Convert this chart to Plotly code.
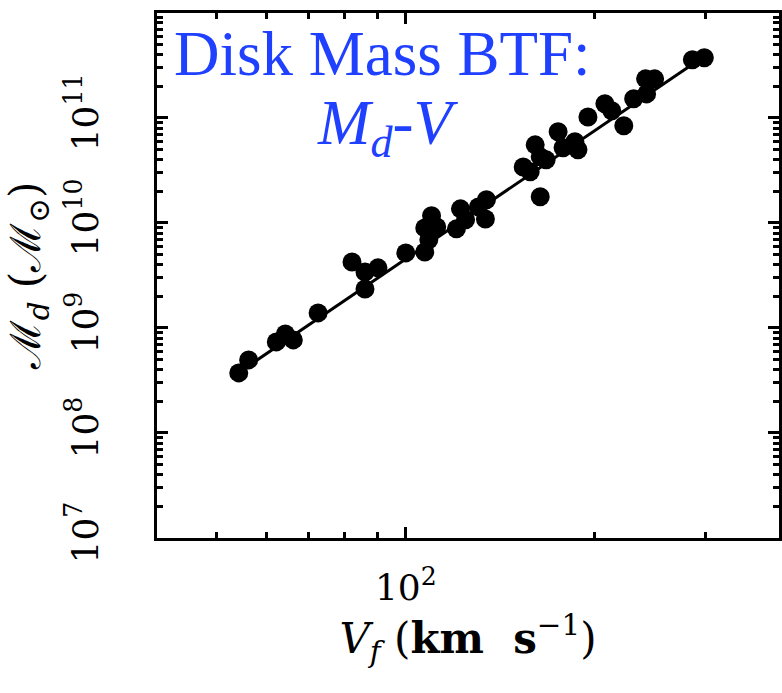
import plotly.graph_objects as go

# Flat rotation velocity (km/s) and disk mass (solar masses)
vf = [54.2, 56.2, 62.2, 64.3, 66.2, 72.5, 82.1, 86.1, 86.1, 90.3,
      100.0, 107.2, 107.2, 109.9, 112.0, 108.8, 120.4, 122.2, 124.5, 130.5,
      134.4, 133.9, 153.8, 157.8, 160.7, 163.7, 167.3, 163.7, 174.8, 178.0,
      185.9, 188.0, 195.0, 207.5, 212.8, 222.4, 230.6, 241.8, 240.9, 249.0,
      286.0, 298.8]
md = [3.73e8, 4.96e8, 7.36e8, 8.77e8, 7.69e8, 1.39e9, 4.25e9, 3.41e9, 2.35e9, 3.73e9,
      5.18e9, 5.29e9, 8.96e9, 1.17e10, 9.16e9, 6.89e9, 8.77e9, 1.36e10, 1.07e10, 1.42e10,
      1.66e10, 1.09e10, 3.41e10, 3.06e10, 5.53e10, 4.25e10, 3.98e10, 1.77e10, 7.36e10, 5.18e10,
      5.91e10, 4.96e10, 1.02e11, 1.36e11, 1.17e11, 8.39e10, 1.52e11, 1.69e11, 2.35e11, 2.35e11,
      3.57e11, 3.73e11]

# Fitted relation endpoints
fit_v = [55.0, 300.0]
fit_m = [4.0e8, 3.93e11]

x_major = [100]
x_major_text = ["10<sup>2</sup>"]
x_minor = [50, 60, 70, 80, 90, 200, 300]
y_major = [1e7, 1e8, 1e9, 1e10, 1e11]
y_major_text = ["10<sup>7</sup>", "10<sup>8</sup>", "10<sup>9</sup>", "10<sup>10</sup>", "10<sup>11</sup>"]
y_minor = [k * 10 ** n for n in range(7, 12) for k in range(2, 10)]

X_RANGE = [1.6038, 2.5943]
Y_RANGE = [7, 11.998]

BLUE = "#1f40ff"
SERIF = "DejaVu Serif"
TIMES = "Liberation Serif"
TICKFONT = dict(family=SERIF, size=36, color="black")

fig = go.Figure()
fig.add_trace(go.Scatter(x=fit_v, y=fit_m, mode="lines",
                         line=dict(color="black", width=3), showlegend=False))
fig.add_trace(go.Scatter(x=vf, y=md, mode="markers",
                         marker=dict(color="black", size=19, line=dict(width=0)),
                         showlegend=False))
# invisible carrier so the overlay axes (long decade ticks) are drawn
fig.add_trace(go.Scatter(x=vf, y=md, mode="markers", xaxis="x2", yaxis="y2",
                         marker=dict(opacity=0), hoverinfo="skip", showlegend=False))

base = dict(type="log", showgrid=False, zeroline=False,
            showline=True, linecolor="black", linewidth=3, mirror="ticks",
            ticks="inside", tickwidth=3, tickcolor="black", tickmode="array")

# main axes: short ticks at every position, labels only at decades
x_all = x_major + x_minor
x_all_text = x_major_text + [""] * len(x_minor)
y_all = y_major + y_minor
y_all_text = y_major_text + [""] * len(y_minor)

fig.update_layout(
    width=782, height=693,
    margin=dict(l=157, r=0, t=13, b=155),
    paper_bgcolor="white", plot_bgcolor="white",
    xaxis=dict(
        base, range=X_RANGE, ticklen=6, tickvals=x_all, ticktext=x_all_text,
        tickfont=TICKFONT, ticklabelstandoff=16,
        title=dict(text="<i>V</i><sub><i>f</i></sub> (<b>km\u00a0 s</b><sup>\u22121</sup>)",
                   font=dict(family=SERIF, size=42, color="black"), standoff=12),
    ),
    yaxis=dict(
        base, range=Y_RANGE, ticklen=6, tickvals=y_all, ticktext=y_all_text,
        tickfont=TICKFONT, tickangle=-90, ticklabelstandoff=42,
        title=dict(text="\u2133<sub><i>d</i></sub> (\u2133<sub>\u2299</sub>)",
                   font=dict(family=SERIF, size=42, color="black"), standoff=6),
    ),
    xaxis2=dict(base, range=X_RANGE, overlaying="x", anchor="y", side="bottom", ticklen=11,
                tickvals=x_major, showticklabels=False),
    yaxis2=dict(base, range=Y_RANGE, overlaying="y", anchor="x", side="left", ticklen=11,
                tickvals=y_major, showticklabels=False),
    annotations=[
        dict(text="Disk Mass BTF:", xref="paper", yref="paper",
             x=(383.5 - 157) / 625, y=(538 - 54) / 525,
             xanchor="center", yanchor="middle", showarrow=False,
             font=dict(family=TIMES, size=63, color=BLUE)),
        dict(text="<i>M</i><sub><i>d</i></sub>-<i>V</i>", xref="paper", yref="paper",
             x=(389 - 157) / 625, y=(538 - 127) / 525,
             xanchor="center", yanchor="middle", showarrow=False,
             font=dict(family=TIMES, size=63, color=BLUE)),
    ],
)

fig.write_html("out.html")
